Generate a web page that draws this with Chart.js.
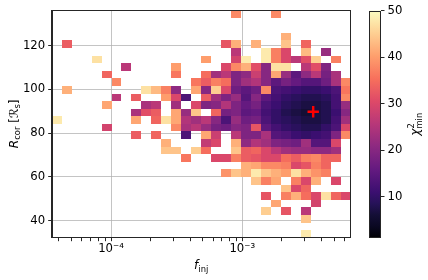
<!DOCTYPE html>
<html>
<head>
<meta charset="utf-8">
<script src="https://cdn.jsdelivr.net/npm/chart.js@4.4.1/dist/chart.umd.min.js"></script>
<style>
  html, body { margin: 0; padding: 0; background: #fff; }
  #wrap { position: relative; width: 428px; height: 280px; }
  #wrap canvas { position: absolute; left: 0; top: 0; }
</style>
</head>
<body>
<div id="wrap">
  <canvas id="main" width="428" height="280"></canvas>
  <canvas id="cbar" width="428" height="280"></canvas>
</div>
<script>
// ---- data ----
const _ = null;
// bin edges of the 2D grid (log10 f_inj and R_cor)
const logFMin = -4.452, logFMax = -2.174;
const rMin = 32.2, rMax = 136.3;
const nCols = 30, nRows = 30;

// chi2_min per cell, rows from top (highest R_cor) to bottom, columns from low to high f_inj
const chi2Rows = [
  [_,_,_,_,_,_,_,_,_,_, _,_,_,_,_,_,_,_,38,_, _,_,38,_,_,_,_,_,_,_],
  [_,_,_,_,_,_,_,_,_,_, _,_,_,_,_,_,_,_,_,_, _,_,_,_,_,_,_,_,_,_],
  [_,_,_,_,_,_,_,_,_,_, _,_,_,_,_,_,_,_,_,_, _,_,_,_,_,_,_,_,_,_],
  [_,_,_,_,_,_,_,_,_,_, _,_,_,_,_,_,_,_,_,_, _,_,_,42,_,_,_,_,_,_],
  [_,33,_,_,_,_,_,_,_,_, _,_,_,_,_,_,_,32,42,_, 42,_,_,44,_,34,_,_,_,_],
  [_,_,_,_,_,_,_,_,_,_, _,_,_,_,_,_,_,_,26,_, _,48,37,30,_,43,_,22,_,_],
  [_,_,_,_,47,_,_,_,_,_, _,_,_,_,_,40,_,_,29,48, _,48,37,30,26,31,45,_,37,_],
  [_,_,_,_,_,_,_,26,_,_, _,_,40,_,_,_,_,30,38,42, 31,20,47,47,_,26,31,19,_,_],
  [_,_,_,_,_,34,_,_,_,_, _,_,36,_,_,35,23,26,19,21, 28,20,41,22,15,21,26,18,24,_],
  [_,_,_,_,_,_,38,_,_,_, _,_,_,_,36,33,37,35,19,23, 25,20,15,18,16,14,14,17,24,38],
  [_,42,_,_,_,_,_,_,_,47, 43,37,21,_,41,20,45,30,17,15, 17,38,13,12,11,10,10,11,13,36],
  [_,_,_,_,_,_,26,_,33,_, _,40,30,13,_,33,23,19,22,14, 20,15,12,10,9,8,8,9,12,38],
  [_,_,_,_,_,41,_,_,_,24, 26,_,23,_,30,19,20,25,19,16, 18,13,11,9,8,7,7,8,12,22],
  [_,_,_,_,_,_,_,_,24,31, 33,_,41,22,44,_,34,18,19,15, 16,12,10,8,7,6,7,8,11,20],
  [48,_,_,_,_,_,_,_,41,_, 34,47,41,25,23,26,20,13,22,17, 18,13,10,9,8,7,7,8,12,23],
  [_,_,_,_,_,29,_,_,_,_, _,_,38,24,26,22,18,17,20,19, 32,15,12,10,9,8,8,10,13,30],
  [_,_,_,_,_,_,_,_,33,_, 34,_,_,13,_,41,28,_,26,19, 19,24,14,13,11,10,11,12,19,38],
  [_,_,_,_,_,_,_,_,_,_, _,42,_,_,_,27,30,_,42,21, 25,23,19,18,17,23,14,14,30,_],
  [_,_,_,_,_,_,_,_,_,_, _,44,44,_,45,35,_,_,44,33, 34,30,26,23,22,22,21,21,23,_],
  [_,_,_,_,_,_,_,_,_,_, _,_,_,36,_,_,30,30,37,33, 32,30,30,35,33,37,38,34,34,_],
  [_,_,_,_,_,_,_,_,_,_, _,_,_,_,_,_,_,_,_,42, 41,38,38,37,30,32,37,34,_,_],
  [_,_,_,_,_,_,_,_,_,_, _,_,_,_,_,_,_,39,44,42, 48,44,42,40,47,42,39,37,_,_],
  [_,_,_,_,_,_,_,_,_,_, _,_,_,_,_,_,_,_,_,_, 44,37,41,_,37,30,42,_,30,_],
  [_,_,_,_,_,_,_,_,_,_, _,_,_,_,_,_,_,_,_,_, _,_,_,44,30,34,_,_,_,_],
  [_,_,_,_,_,_,_,_,_,_, _,_,_,_,_,_,_,_,_,_, _,32,_,37,42,35,30,47,34,30],
  [_,_,_,_,_,_,_,_,_,_, _,_,_,_,_,_,_,_,_,_, _,_,41,_,_,_,29,_,_,_],
  [_,_,_,_,_,_,_,_,_,_, _,_,_,_,_,_,_,_,_,_, _,45,_,32,_,26,_,_,_,_],
  [_,_,_,_,_,_,_,_,_,_, _,_,_,_,_,_,_,_,_,_, _,_,_,_,_,44,_,_,_,_],
  [_,_,_,_,_,_,_,_,_,_, _,_,_,_,_,_,_,_,_,_, _,_,_,_,_,_,_,_,_,_],
  [_,_,_,_,_,_,_,_,_,_, _,_,_,_,_,_,_,_,_,_, _,_,_,_,_,48,_,_,_,_]
];

// best fit marker
const bestFitX = [3.47e-3];
const bestFitY = [89.8];

// ticks
const xMajorTicks = [1e-4, 1e-3];
const xTickLabels = ['10\u207B\u2074', '10\u207B\u00B3'];
const yTicks = [40, 60, 80, 100, 120];
const cbMin = 1.2, cbMax = 50;
const cbTicks = [10, 20, 30, 40, 50];

// ---- style ----
Chart.defaults.font.family = "'DejaVu Sans', sans-serif";
Chart.defaults.font.size = 11.7;
Chart.defaults.color = '#000';
const gridColor = 'rgba(176,176,176,0.75)';
const spineColor = '#262626';

const magmaStops = [
  [0.0, 0, 0, 4], [0.05, 10, 8, 34], [0.1, 20, 14, 54], [0.15, 38, 18, 88],
  [0.2, 59, 15, 112], [0.3, 100, 26, 128], [0.4, 140, 41, 129], [0.5, 183, 55, 121],
  [0.6, 222, 73, 104], [0.7, 247, 112, 92], [0.8, 254, 159, 109], [0.9, 254, 207, 146],
  [1.0, 252, 253, 191]
];
function magma(t) {
    t = Math.max(0, Math.min(1, t));
    for (let i = 0; i < magmaStops.length - 1; i++) {
        const a = magmaStops[i], b = magmaStops[i + 1];
        if (t <= b[0]) {
            const p = (t - a[0]) / (b[0] - a[0]);
            const c = [1, 2, 3].map(k => Math.round(a[k] + p * (b[k] - a[k])));
            return `rgb(${c[0]},${c[1]},${c[2]})`;
        }
    }
    return 'rgb(252,253,191)';
}

// minor ticks of the log axis
const xTicks = [];
for (let e = -5; e <= -3; e++) {
    for (let m = 1; m <= 9; m++) {
        const v = parseFloat((m * Math.pow(10, e)).toPrecision(3));
        if (Math.log10(v) > logFMin && Math.log10(v) < logFMax) xTicks.push(v);
    }
}

const xEdges = [], yEdges = [];
for (let i = 0; i <= nCols; i++) xEdges.push(Math.pow(10, logFMin + i * (logFMax - logFMin) / nCols));
for (let j = 0; j <= nRows; j++) yEdges.push(rMax - j * (rMax - rMin) / nRows);

// draw one line of mixed-size text (sub/superscripts), centred on (cx, cy)
function drawRuns(ctx, runs, cx, cy, angle) {
    ctx.save();
    ctx.translate(cx, cy);
    ctx.rotate(angle);
    let total = 0;
    runs.forEach(r => { ctx.font = r.font; r.w = ctx.measureText(r.text).width; if (!r.stack) total += r.w; });
    let px = -total / 2;
    ctx.fillStyle = '#000';
    ctx.textBaseline = 'alphabetic';
    ctx.textAlign = 'left';
    runs.forEach(r => {
        ctx.font = r.font;
        ctx.fillText(r.text, px, r.dy || 0);
        if (!r.stack) px += r.w;
    });
    ctx.restore();
}

const heatmapPlugin = {
    id: 'heatmap',
    beforeDatasetsDraw(chart) {
        const { ctx, scales: { x, y } } = chart;
        ctx.save();
        chi2Rows.forEach((row, r) => {
            row.forEach((v, c) => {
                if (v === null) return;
                const x0 = Math.round(x.getPixelForValue(xEdges[c]));
                const x1 = Math.round(x.getPixelForValue(xEdges[c + 1]));
                const y0 = Math.round(y.getPixelForValue(yEdges[r]));
                const y1 = Math.round(y.getPixelForValue(yEdges[r + 1]));
                ctx.fillStyle = magma((v - cbMin) / (cbMax - cbMin));
                ctx.fillRect(x0, y0, x1 - x0, y1 - y0);
            });
        });
        ctx.restore();
    }
};

const framePlugin = {
    id: 'frame',
    afterDraw(chart) {
        const { ctx, chartArea: a } = chart;
        ctx.save();
        ctx.strokeStyle = spineColor;
        ctx.lineWidth = 1;
        ctx.strokeRect(Math.round(a.left) + 0.5, Math.round(a.top) + 0.5,
            Math.round(a.right - a.left) - 1, Math.round(a.bottom - a.top) - 1);
        ctx.restore();
        const f = "'DejaVu Sans', sans-serif";
        drawRuns(ctx, [
            { text: 'f', font: `italic 12px ${f}` },
            { text: 'inj', font: `8.4px ${f}`, dy: 2.6 }
        ], (a.left + a.right) / 2, 269, 0);
        drawRuns(ctx, [
            { text: 'R', font: `italic 12px ${f}` },
            { text: 'cor', font: `8.4px ${f}`, dy: 2.6 },
            { text: ' [', font: `12px ${f}` },
            { text: '\u211B', font: `12px ${f}` },
            { text: 's', font: `8.4px ${f}`, dy: 2.6 },
            { text: ']', font: `12px ${f}` }
        ], 17.5, (a.top + a.bottom) / 2, -Math.PI / 2);
    }
};

const mainChart = new Chart(document.getElementById('main'), {
    type: 'scatter',
    data: {
        datasets: [{
            data: bestFitX.map((v, i) => ({ x: v, y: bestFitY[i] })),
            pointStyle: 'cross',
            radius: 5.7,
            borderWidth: 2.4,
            borderColor: '#ff0000',
            backgroundColor: '#ff0000'
        }]
    },
    options: {
        responsive: false,
        animation: false,
        devicePixelRatio: 1,
        layout: { padding: { top: 10, right: 77.3, left: 0, bottom: 0 } },
        plugins: { legend: { display: false }, tooltip: { enabled: false } },
        scales: {
            x: {
                type: 'logarithmic',
                min: Math.pow(10, logFMin),
                max: Math.pow(10, logFMax),
                z: 1,
                afterBuildTicks(axis) {
                    axis.ticks = xTicks.map(v => ({ value: v }));
                },
                afterFit(axis) { axis.height = 42.3; },
                ticks: {
                    autoSkip: false,
                    maxRotation: 0,
                    padding: 1,
                    callback(value) {
                        const i = xMajorTicks.indexOf(value);
                        return i >= 0 ? xTickLabels[i] : '';
                    }
                },
                grid: {
                    color: (ctx) => (ctx.tick && xMajorTicks.includes(ctx.tick.value)) ? gridColor : 'rgba(0,0,0,0)',
                    tickColor: spineColor,
                    tickLength: 3.5,
                    lineWidth: 1
                },
                border: { display: true, color: spineColor, width: 1 }
            },
            y: {
                type: 'linear',
                min: rMin,
                max: rMax,
                z: 1,
                afterBuildTicks(axis) {
                    axis.ticks = yTicks.map(v => ({ value: v }));
                },
                afterFit(axis) { axis.width = 51.7; },
                ticks: { padding: 3, callback: (v) => String(v) },
                grid: { color: gridColor, tickColor: spineColor, tickLength: 3.5, lineWidth: 1 },
                border: { display: true, color: spineColor, width: 1 }
            }
        }
    },
    plugins: [heatmapPlugin, framePlugin]
});

const colorbarPlugin = {
    id: 'colorbar',
    beforeDatasetsDraw(chart) {
        const { ctx, chartArea: a } = chart;
        const g = ctx.createLinearGradient(0, a.bottom, 0, a.top);
        magmaStops.forEach(s => g.addColorStop(s[0], `rgb(${s[1]},${s[2]},${s[3]})`));
        ctx.save();
        ctx.fillStyle = g;
        ctx.fillRect(a.left, a.top, a.right - a.left, a.bottom - a.top);
        ctx.restore();
    },
    afterDraw(chart) {
        const { ctx, chartArea: a } = chart;
        ctx.save();
        ctx.strokeStyle = spineColor;
        ctx.lineWidth = 1;
        ctx.strokeRect(Math.round(a.left) + 0.5, Math.round(a.top) + 0.5,
            Math.round(a.right - a.left) - 1, Math.round(a.bottom - a.top) - 1);
        ctx.restore();
        const f = "'DejaVu Sans', sans-serif";
        drawRuns(ctx, [
            { text: '\u03C7', font: `italic 12px ${f}` },
            { text: '2', font: `8.4px ${f}`, dy: -5, stack: true },
            { text: 'min', font: `8.4px ${f}`, dy: 3 }
        ], 419, (a.top + a.bottom) / 2, -Math.PI / 2);
    }
};

const cbChart = new Chart(document.getElementById('cbar'), {
    type: 'scatter',
    data: { datasets: [{ data: [] }] },
    options: {
        responsive: false,
        animation: false,
        devicePixelRatio: 1,
        layout: { padding: { left: 369.3, top: 10.7, bottom: 42.3, right: 0 } },
        plugins: { legend: { display: false }, tooltip: { enabled: false } },
        scales: {
            x: { display: false, min: 0, max: 1 },
            y: {
                position: 'right',
                min: cbMin,
                max: cbMax,
                afterBuildTicks(axis) {
                    axis.ticks = cbTicks.map(v => ({ value: v }));
                },
                afterFit(axis) { axis.width = 47; },
                ticks: { padding: 3 },
                grid: { drawOnChartArea: false, tickColor: spineColor, tickLength: 3.5 },
                border: { display: false }
            }
        }
    },
    plugins: [colorbarPlugin]
});
</script>
</body>
</html>
